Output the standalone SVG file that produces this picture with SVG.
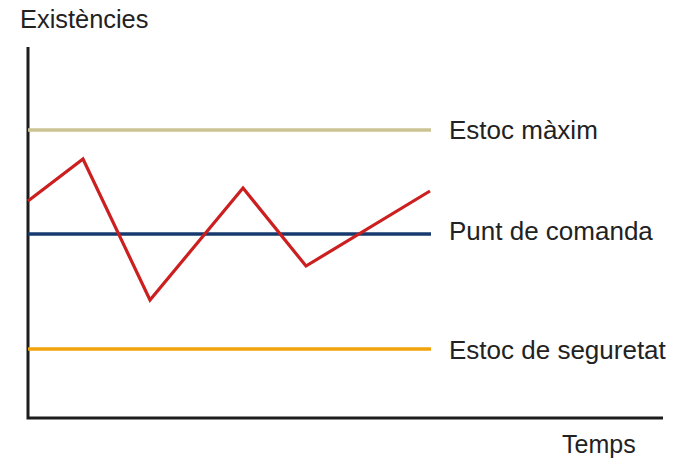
<svg xmlns="http://www.w3.org/2000/svg" width="675" height="461" viewBox="0 0 675 461">
<style>
text{font-family:"Liberation Sans",Arial,sans-serif;font-size:26px;fill:#222}
.axis{stroke:#1c1c1c;stroke-width:3;fill:none}
.lvl{stroke-width:3.5;fill:none}
</style>
<rect width="675" height="461" fill="#fff"/>
<g id="axes">
<path class="axis" d="M28,47 V418 H663"/>
</g>
<g id="levels">
<line class="lvl" x1="28" y1="130" x2="431" y2="130" stroke="#cbc393"/>
<line class="lvl" x1="28" y1="234" x2="431" y2="234" stroke="#173a6e"/>
<line class="lvl" x1="28" y1="349" x2="431" y2="349" stroke="#f0a30a"/>
</g>
<g id="stock">
<polyline points="28,201 83,159 150,300 243,188 306,266 430,191" fill="none" stroke="#cc1f1f" stroke-width="3.2" stroke-linejoin="miter"/>
</g>
<g id="labels">
<text x="20" y="28" style="font-size:25.4px">Existències</text>
<text x="449" y="139">Estoc màxim</text>
<text x="449" y="240">Punt de comanda</text>
<text x="449" y="359">Estoc de seguretat</text>
<text x="562" y="453" style="font-size:25px">Temps</text>
</g>
</svg>
